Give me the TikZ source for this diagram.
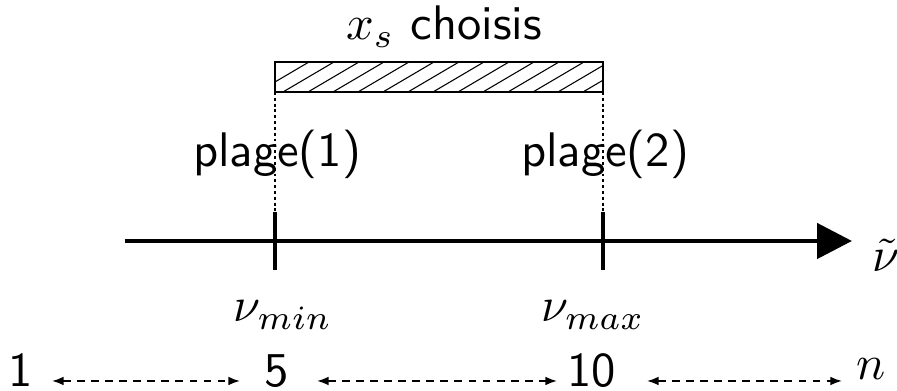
\documentclass[tikz,border=0pt]{standalone}
\usetikzlibrary{arrows.meta}
\begin{document}
\begin{tikzpicture}[x=0.206pt,y=-0.206pt, font=\sffamily,
  lbl/.style={inner sep=0pt, anchor=base},
  axisline/.style={line width=1.0pt},
  tickline/.style={line width=1.0pt},
  barbox/.style={line width=0.45pt},
  hatchline/.style={line width=0.22pt},
  guide/.style={line width=0.3pt, dash pattern=on 0.6pt off 0.6pt},
  spanarrow/.style={line width=0.35pt, dash pattern=on 1.6pt off 1.3pt,
    {Latex[length=2.4pt,width=1.8pt]}-{Latex[length=2.4pt,width=1.8pt]}}]
\useasboundingbox (0,0) rectangle (897,391);
% axis
\coordinate (axs) at (125,241);
\coordinate (axe) at (852,241);
\draw[axisline, -{Triangle[length=7.2pt,width=7.2pt]}] (axs) -- (axe);
% ticks
\coordinate (t1top) at (275,212);
\coordinate (t1bot) at (275,270);
\coordinate (t2top) at (603,212);
\coordinate (t2bot) at (603,270);
\draw[tickline] (t1top) -- (t1bot);
\draw[tickline] (t2top) -- (t2bot);
% hatched bar
\coordinate (barsw) at (275,92);
\coordinate (barne) at (603,62);
\coordinate (barse) at (603,92);
\begin{scope}
  \clip (barsw) rectangle (barne);
  \foreach \k in {-1,...,14}
    \draw[hatchline] (283+25*\k,92) -- (334+25*\k,62);
\end{scope}
\draw[barbox] (barsw) rectangle (barne);
% guides
\draw[guide] (barsw) -- (t1top);
\draw[guide] (barse) -- (t2top);
% labels
\node[lbl] (title) at (444,40) {$x_s$ choisis};
\node[lbl] (p1) at (277,167) {plage(1)};
\node[lbl] (p2) at (605,167) {plage(2)};
\node[lbl] (numin) at (283,322) {$\nu_{min}$};
\node[lbl] (numax) at (593,322) {$\nu_{max}$};
\node[lbl, anchor=base west] (nut) at (872,272) {$\tilde{\nu}$};
% bottom row
\node[lbl] (n1) at (21,387) {1};
\node[lbl] (n5) at (277,387) {5};
\node[lbl] (n10) at (592,387) {10};
\node[lbl] (nn) at (871,380) {$n$};
\coordinate (a1s) at (52,381);
\coordinate (a1e) at (240,381);
\coordinate (a2s) at (317,381);
\coordinate (a2e) at (557,381);
\coordinate (a3s) at (647,381);
\coordinate (a3e) at (842,381);
\draw[spanarrow] (a1s) -- (a1e);
\draw[spanarrow] (a2s) -- (a2e);
\draw[spanarrow] (a3s) -- (a3e);
\end{tikzpicture}
\end{document}
